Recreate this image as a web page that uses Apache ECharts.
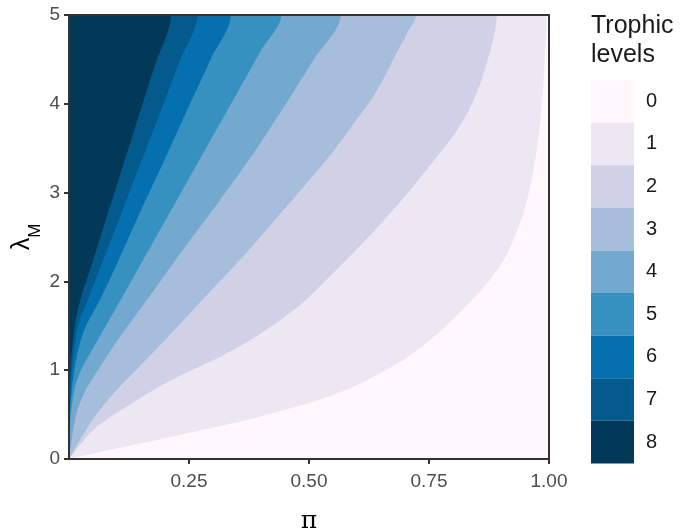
<!DOCTYPE html>
<html>
<head>
<meta charset="utf-8">
<title>Trophic levels</title>
<script src="https://cdn.jsdelivr.net/npm/echarts@6/dist/echarts.min.js"></script>
<style>
  html, body { margin: 0; padding: 0; background: #fff; }
  #chart { width: 681px; height: 532px; }
</style>
</head>
<body>
<div id="chart"></div>
<script>
// trophic levels shown in the key
const levels = [0, 1, 2, 3, 4, 5, 6, 7, 8];
const xTicks = [0.25, 0.5, 0.75, 1.0];
const yTicks = [0, 1, 2, 3, 4, 5];
const xMax = 1;
const yMax = 5;

// boundary between level k-1 and k, as [pi, lambda_M]
const edge1 = [[0, 0], [0.1, 0.12], [0.2, 0.235], [0.3, 0.355], [0.4, 0.48], [0.5, 0.63], [0.55, 0.72],
  [0.6, 0.83], [0.65, 0.97], [0.7, 1.13], [0.75, 1.33], [0.8, 1.57], [0.85, 1.85], [0.88, 2.04],
  [0.91, 2.28], [0.94, 2.66], [0.96, 3.05], [0.975, 3.5], [0.985, 4.0], [0.991, 4.5], [0.995, 5]];
const edge2 = [[0, 0], [0.051, 0.33], [0.12, 0.59], [0.19, 0.82], [0.259, 1.01], [0.315, 1.15], [0.384, 1.36],
  [0.454, 1.62], [0.495, 1.8], [0.544, 2.06], [0.606, 2.4], [0.648, 2.64], [0.717, 3.07], [0.766, 3.4],
  [0.808, 3.7], [0.842, 4.03], [0.87, 4.45], [0.891, 5]];
const edge3 = [[0, 0], [0.05, 0.45], [0.1, 0.78], [0.143, 1.02], [0.2, 1.34], [0.25, 1.63], [0.3, 1.92],
  [0.356, 2.24], [0.419, 2.63], [0.488, 3.06], [0.544, 3.42], [0.592, 3.77], [0.627, 4.03], [0.655, 4.28],
  [0.683, 4.58], [0.705, 4.8], [0.723, 5]];
const edge4 = [[0, 0], [0.015, 0.5], [0.035, 0.78], [0.06, 1.0], [0.1, 1.33], [0.15, 1.7], [0.19, 2.0],
  [0.25, 2.45], [0.315, 2.92], [0.394, 3.52], [0.454, 4.02], [0.51, 4.5], [0.566, 5]];
const edge5 = [[0, 0], [0.004, 0.5], [0.012, 0.8], [0.025, 1.0], [0.06, 1.34], [0.1, 1.72], [0.15, 2.2],
  [0.2, 2.68], [0.25, 3.16], [0.3, 3.64], [0.35, 4.12], [0.4, 4.6], [0.442, 5]];
const edge6 = [[0, 0], [0.002, 0.5], [0.011, 1.0], [0.03, 1.43], [0.065, 1.8], [0.1, 2.2], [0.15, 2.8],
  [0.2, 3.38], [0.252, 4.0], [0.295, 4.5], [0.337, 5]];
const edge7 = [[0, 0], [0.001, 0.5], [0.006, 1.0], [0.02, 1.52], [0.04, 1.8], [0.07, 2.22], [0.1, 2.64],
  [0.131, 3.08], [0.16, 3.48], [0.197, 4.0], [0.232, 4.5], [0.268, 5]];
const edge8 = [[0, 0], [0.001, 0.6], [0.003, 1.0], [0.012, 1.5], [0.024, 1.8], [0.045, 2.15], [0.07, 2.58],
  [0.1, 3.09], [0.13, 3.6], [0.151, 3.96], [0.18, 4.45], [0.2125, 5]];

const edges = [edge1, edge2, edge3, edge4, edge5, edge6, edge7, edge8];

// PuBu palette
const palette = ['#fff7fb', '#ece7f2', '#d0d1e6', '#a6bddb', '#74a9cf', '#3690c0', '#0570b0', '#045a8d', '#023858'];

const chart = echarts.init(document.getElementById('chart'));

// panel starts at the top level; under edge k everything is level k-1,
// so paint from edge8 down to edge1. The edge is carried on above the
// panel and across it, the part outside is clipped away.
function underEdge(edge) {
  const top = edge[edge.length - 1];
  return edge.concat([[top[0], yMax + 1], [xMax, yMax + 1]]);
}

const areaSeries = [];
for (let k = 8; k >= 1; k--) {
  areaSeries.push({
    name: 'level' + (k - 1),
    type: 'line',
    data: underEdge(edges[k - 1]),
    smooth: 0.3,
    showSymbol: false,
    silent: true,
    clip: true,
    lineStyle: { width: 0, opacity: 0 },
    areaStyle: { color: palette[k - 1], opacity: 1, origin: 'start' },
  });
}

const frameLine = { show: true, onZero: false, lineStyle: { color: '#333333', width: 2 } };

const option = {
  animation: false,
  title: {
    text: 'Trophic\nlevels',
    left: 586,
    top: 7,
    textStyle: {
      fontFamily: 'Liberation Sans',
      fontSize: 25,
      fontWeight: 'normal',
      color: '#1a1a1a',
      lineHeight: 29,
    },
  },
  grid: {
    left: 69,
    right: 132,
    top: 15,
    bottom: 73,
    outerBoundsMode: 'none',
    containLabel: false,
    show: true,
    backgroundColor: palette[8],
    borderWidth: 0,
  },
  visualMap: {
    type: 'piecewise',
    seriesIndex: [],
    orient: 'vertical',
    inverse: true,
    align: 'left',
    left: 576,
    top: 65,
    itemWidth: 43,
    itemHeight: 42.6,
    itemGap: 0,
    itemSymbol: 'rect',
    textGap: 12,
    hoverLink: false,
    selectedMode: false,
    textStyle: { fontFamily: 'Liberation Sans', fontSize: 20, color: '#1a1a1a' },
    pieces: levels.map(k => ({ value: k, label: String(k), color: palette[k] })),
  },
  xAxis: [
    {
      type: 'value',
      min: 0,
      max: xMax,
      interval: 0.25,
      z: 10,
      name: 'π',
      nameLocation: 'middle',
      nameGap: 50,
      nameMoveOverlap: false,
      nameTextStyle: { fontFamily: 'DejaVu Serif', fontSize: 25, color: '#000' },
      axisLine: frameLine,
      axisTick: { show: true, length: 5, customValues: xTicks, lineStyle: { color: '#333333', width: 2 } },
      axisLabel: {
        customValues: xTicks,
        formatter: v => v.toFixed(2),
        margin: 13,
        fontFamily: 'Liberation Sans',
        fontSize: 19,
        color: '#4d4d4d',
      },
      splitLine: { show: false },
    },
    {
      type: 'value',
      position: 'top',
      min: 0,
      max: xMax,
      z: 10,
      axisLine: frameLine,
      axisTick: { show: false },
      axisLabel: { show: false },
      splitLine: { show: false },
    },
  ],
  yAxis: [
    {
      type: 'value',
      min: 0,
      max: yMax,
      interval: 1,
      z: 10,
      name: '{l|λ}{s|M}',
      nameLocation: 'middle',
      nameRotate: 90,
      nameGap: 25,
      nameMoveOverlap: false,
      nameTextStyle: {
        color: '#000',
        rich: {
          l: { fontFamily: 'Liberation Sans', fontSize: 25, lineHeight: 34, verticalAlign: 'top', color: '#000' },
          s: { fontFamily: 'Liberation Sans', fontSize: 17, lineHeight: 17, verticalAlign: 'bottom', color: '#000' },
        },
      },
      axisLine: frameLine,
      axisTick: { show: true, length: 5, customValues: yTicks, lineStyle: { color: '#333333', width: 2 } },
      axisLabel: {
        customValues: yTicks,
        margin: 9,
        fontFamily: 'Liberation Sans',
        fontSize: 19,
        color: '#4d4d4d',
      },
      splitLine: { show: false },
    },
    {
      type: 'value',
      position: 'right',
      min: 0,
      max: yMax,
      z: 10,
      axisLine: frameLine,
      axisTick: { show: false },
      axisLabel: { show: false },
      splitLine: { show: false },
    },
  ],
  series: areaSeries,
};

chart.setOption(option);
</script>
</body>
</html>
